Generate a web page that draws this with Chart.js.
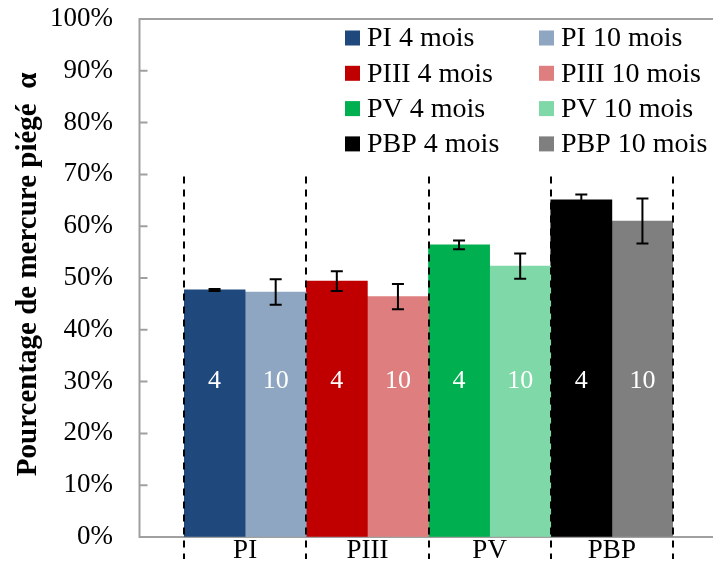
<!DOCTYPE html>
<html><head><meta charset="utf-8">
<script src="https://cdn.jsdelivr.net/npm/chart.js@4"></script>
<style>html,body{margin:0;padding:0;background:#fff}#wrap{width:713px;height:562px}</style>
</head><body><div id="wrap"><canvas id="c" width="713" height="562"></canvas></div>
<script>
const categories = ['PI', 'PIII', 'PV', 'PBP'];
const seriesNames4 = ['PI 4 mois', 'PIII 4 mois', 'PV 4 mois', 'PBP 4 mois'];
const seriesNames10 = ['PI 10 mois', 'PIII 10 mois', 'PV 10 mois', 'PBP 10 mois'];
const barTags = ['4', '10'];
const values4 = [47.7, 49.4, 56.4, 65.1];
const errors4 = [0.2, 1.9, 0.85, 1.0];
const values10 = [47.3, 46.4, 52.3, 61.0];
const errors10 = [2.45, 2.45, 2.45, 4.35];
const yTickValues = [0, 10, 20, 30, 40, 50, 60, 70, 80, 90, 100];
const yTitle = ' Pourcentage de mercure piégé  α';

const colors4 = ['#1F497D', '#C00000', '#00B050', '#000000'];
const colors10 = ['#8EA6C1', '#DE7E7E', '#7FD8A7', '#7F7F7F'];
const FONT = "'Liberation Serif', 'DejaVu Serif', serif";

function only(i, v) { return categories.map((_, k) => k === i ? v : null); }

const datasets = [];
categories.forEach((c, i) => {
  datasets.push({ label: seriesNames4[i], data: only(i, values4[i]), backgroundColor: colors4[i], tag: barTags[0], err: only(i, errors4[i]) });
  datasets.push({ label: seriesNames10[i], data: only(i, values10[i]), backgroundColor: colors10[i], tag: barTags[1], err: only(i, errors10[i]) });
});

const decor = {
  id: 'decor',
  beforeDatasetsDraw(chart) {
    const { ctx, chartArea: a, scales: { x, y } } = chart;
    const cw = x.getPixelForValue(1) - x.getPixelForValue(0);
    const fl = Math.round(a.left - 0.37 * cw) + 0.5;
    ctx.save();
    ctx.strokeStyle = '#a0a0a0';
    ctx.lineWidth = 2;
    ctx.beginPath();
    ctx.moveTo(chart.width, a.top); ctx.lineTo(fl, a.top); ctx.lineTo(fl, a.bottom); ctx.lineTo(chart.width, a.bottom);
    yTickValues.forEach(v => { const py = y.getPixelForValue(v); ctx.moveTo(fl, py); ctx.lineTo(fl + 8, py); });
    ctx.stroke();
    ctx.restore();
  },
  afterDatasetsDraw(chart) {
    const { ctx, chartArea: a, scales: { x, y } } = chart;
    const cw = x.getPixelForValue(1) - x.getPixelForValue(0);
    ctx.save();
    ctx.fillStyle = '#ffffff';
    ctx.font = '26px ' + FONT;
    ctx.textAlign = 'center';
    ctx.textBaseline = 'middle';
    chart.data.datasets.forEach((ds, di) => {
      const meta = chart.getDatasetMeta(di);
      meta.data.forEach((bar, k) => {
        if (ds.data[k] == null) return;
        ctx.fillText(ds.tag, bar.x, y.getPixelForValue(30));
      });
    });
    ctx.strokeStyle = '#000';
    ctx.lineWidth = 2;
    ctx.setLineDash([7, 6]);
    for (let i = 0; i <= categories.length; i++) {
      const px = Math.round(x.getPixelForValue(i) - cw / 2);
      ctx.beginPath();
      ctx.moveTo(px, y.getPixelForValue(70) + 2);
      ctx.lineTo(px, a.bottom + 22);
      ctx.stroke();
    }
    ctx.setLineDash([]);
    chart.data.datasets.forEach((ds, di) => {
      const meta = chart.getDatasetMeta(di);
      meta.data.forEach((bar, k) => {
        if (ds.data[k] == null) return;
        const v = ds.data[k], e = ds.err[k];
        const t = y.getPixelForValue(v + e), b = y.getPixelForValue(v - e);
        ctx.beginPath();
        ctx.moveTo(bar.x, t); ctx.lineTo(bar.x, b);
        ctx.moveTo(bar.x - 6, t); ctx.lineTo(bar.x + 6, t);
        ctx.moveTo(bar.x - 6, b); ctx.lineTo(bar.x + 6, b);
        ctx.stroke();
      });
    });
    ctx.restore();
  },
  afterDraw(chart) {
    const { ctx } = chart;
    ctx.save();
    ctx.font = '28px ' + FONT;
    ctx.textBaseline = 'middle';
    ctx.textAlign = 'left';
    const colX = [345, 539];
    chart.data.datasets.forEach((ds, i) => {
      const r = Math.floor(i / 2), c = i % 2;
      const cy = 38 + r * 35.3;
      ctx.fillStyle = ds.backgroundColor;
      ctx.fillRect(colX[c], cy - 7.5, 15, 15);
      ctx.fillStyle = '#000';
      ctx.fillText(ds.label, colX[c] + 22, cy + 1);
    });
    ctx.restore();
  }
};

Chart.defaults.font.family = FONT;
Chart.defaults.color = '#000';

new Chart(document.getElementById('c'), {
  type: 'bar',
  data: { labels: categories, datasets },
  options: {
    responsive: false,
    animation: false,
    devicePixelRatio: 1,
    layout: { padding: { top: 19, right: 40, left: 0, bottom: 0 } },
    datasets: { bar: { skipNull: true, barPercentage: 1, categoryPercentage: 1 } },
    plugins: { legend: { display: false }, tooltip: { enabled: false } },
    scales: {
      x: {
        grid: { display: false, drawTicks: false },
        border: { display: false },
        ticks: { font: { size: 27 }, padding: -2, color: '#000' },
        afterFit(s) { s.height = 25; }
      },
      y: {
        min: 0, max: 100,
        grid: { display: true, drawOnChartArea: false, drawTicks: true, tickLength: 71, color: 'rgba(0,0,0,0)' },
        border: { display: false },
        afterBuildTicks(s) { s.ticks = yTickValues.map(v => ({ value: v })); },
        ticks: { font: { size: 27 }, padding: 0, color: '#000', callback: v => v + '%' },
        title: { display: true, text: yTitle, font: { size: 29, weight: 'bold' }, padding: { top: 11, bottom: 0 }, color: '#000' },
        afterFit(s) { s.width = 184; }
      }
    }
  },
  plugins: [decor]
});
</script></body></html>
